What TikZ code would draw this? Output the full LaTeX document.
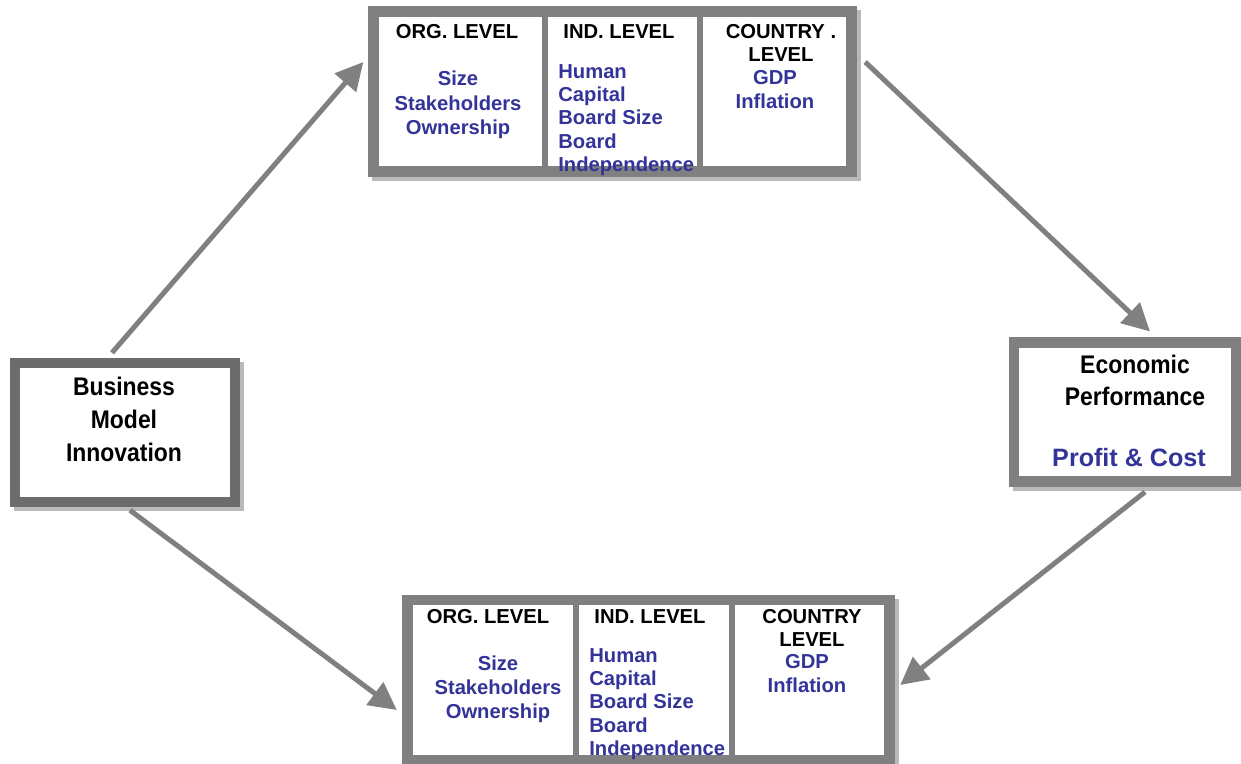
\documentclass[tikz,border=0pt]{standalone}
\usepackage{fontspec}
\setmainfont{Liberation Sans}
\newfontfamily\narrowsans[FakeStretch=0.9]{Liberation Sans}
\usetikzlibrary{arrows.meta,shadows}
\definecolor{framegray}{RGB}{128,128,128}
\definecolor{darkframe}{RGB}{108,108,108}
\definecolor{shadegray}{RGB}{185,185,185}
\definecolor{factorblue}{RGB}{51,51,153}
\tikzstyle{panel}=[
	rectangle,
	draw=framegray,
	line width=0.21cm,
	fill=white,
	drop shadow={shadow xshift=0.08cm, shadow yshift=-0.08cm,
		fill=shadegray, draw=shadegray, opacity=1}
]
\tikzstyle{divider}=[
	draw=framegray,
	line width=0.12cm
]
\tikzstyle{levelhead}=[
	inner sep=0pt,
	anchor=north,
	align=center,
	font=\bfseries\fontsize{11.5}{13.3}\selectfont
]
\tikzstyle{factor}=[
	inner sep=0pt,
	anchor=north,
	align=center,
	text=factorblue,
	font=\bfseries\fontsize{11.5}{13.9}\selectfont
]
\tikzstyle{construct}=[
	inner sep=0pt,
	anchor=north,
	align=center,
	font=\narrowsans\bfseries\fontsize{14.5}{18.8}\selectfont
]
\tikzstyle{flow}=[
	-{Triangle[length=0.55cm,width=0.55cm]},
	line width=0.1cm,
	draw=framegray
]

\begin{document}
\begin{tikzpicture}[x=0.02cm,y=-0.02cm]
\useasboundingbox (0,0) rectangle (1241,764);
% boxes
\node [panel, draw=darkframe, minimum width=4.4cm, minimum height=2.78cm] (bmi) at (125,432.5) {};
\node [panel, minimum width=9.56cm, minimum height=3.2cm] (topbox) at (612.5,91.5) {};
\node [panel, minimum width=4.45cm, minimum height=2.79cm] (econ) at (1125,412) {};
\node [panel, minimum width=9.64cm, minimum height=3.21cm] (botbox) at (648.5,680) {};
\draw [divider] ([xshift=-1.35cm]topbox.north) -- ([xshift=-1.35cm]topbox.south);
\draw [divider] ([xshift=1.76cm]topbox.north) -- ([xshift=1.76cm]topbox.south);
\draw [divider] ([xshift=-1.45cm]botbox.north) -- ([xshift=-1.45cm]botbox.south);
\draw [divider] ([xshift=1.67cm]botbox.north) -- ([xshift=1.67cm]botbox.south);

% upper levels
\node [levelhead] (orgtop) at (457,24) {ORG. LEVEL};
\node [levelhead] (indtop) at (619,24) {IND. LEVEL};
\node [levelhead] (ctrytop) at (781,24) {COUNTRY .\\LEVEL};
\node [factor] (orgvartop) at (458,71) {Size\\Stakeholders\\Ownership};
\node [factor, anchor=north west, align=left, font=\bfseries\fontsize{11.5}{13.3}\selectfont] (indvartop) at (558,64) {Human\\Capital\\Board Size\\Board\\Independence};
\node [factor] (ctryvartop) at (775,70) {GDP\\Inflation};

% lower levels
\node [levelhead] (orgbot) at (488,609) {ORG. LEVEL};
\node [levelhead] (indbot) at (650,609) {IND. LEVEL};
\node [levelhead] (ctrybot) at (812,609) {COUNTRY\\LEVEL};
\node [factor] (orgvarbot) at (498,655) {Size\\Stakeholders\\Ownership};
\node [factor, anchor=north west, align=left, font=\bfseries\fontsize{11.5}{13.3}\selectfont] (indvarbot) at (589,648) {Human\\Capital\\Board Size\\Board\\Independence};
\node [factor] (ctryvarbot) at (807,654) {GDP\\Inflation};

% constructs
\node [construct] (bmitext) at (124,377) {Business\\Model\\Innovation};
\node [construct, font=\narrowsans\bfseries\fontsize{14.5}{18.2}\selectfont] (econtext) at (1135,355) {Economic\\Performance};
\node [factor, font=\bfseries\fontsize{14.3}{16}\selectfont] (profit) at (1129,448) {Profit \& Cost};

% paths
\draw [flow] ([xshift=-0.26cm,yshift=0.1cm]bmi.north) -- ([xshift=-0.1cm,yshift=0.59cm]topbox.west);
\draw [flow] ([xshift=0.17cm,yshift=0.59cm]topbox.east) -- ([xshift=0.5cm,yshift=0.11cm]econ.north);
\draw [flow] ([xshift=0.4cm,yshift=-0.1cm]econ.south) -- ([xshift=0.11cm,yshift=-0.1cm]botbox.east);
\draw [flow] ([xshift=0.1cm,yshift=-0.06cm]bmi.south) -- ([xshift=-0.11cm,yshift=-0.6cm]botbox.west);
\end{tikzpicture}
\end{document}
